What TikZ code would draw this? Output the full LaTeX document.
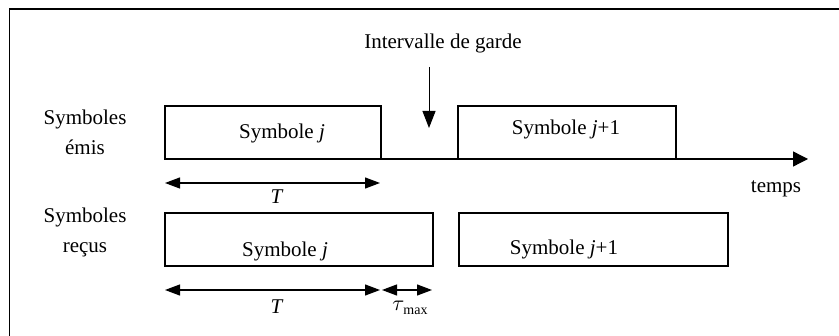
\documentclass[tikz,border=0pt]{standalone}
\usepackage{fontspec}
\setmainfont{Liberation Serif}
\usetikzlibrary{
  arrows.meta,
  positioning,
  calc
}
\tikzset{
  symbox/.style={
    draw,
    line width=0.65pt,
    inner sep=0pt,
    outer sep=0pt,
    minimum height=26.5pt,
    anchor=north west
  },
  txt/.style={
    inner sep=0pt,
    font=\fontsize{10.5}{15}\selectfont,
    align=center
  },
  dimline/.style={
    line width=0.6pt,
    {Triangle[length=7.5pt,width=5.5pt]}-{Triangle[length=7.5pt,width=5.5pt]}
  }
}

\begin{document}
\begin{tikzpicture}[
      x=0.5pt, y=-0.5pt,
      >=Stealth
      ]
      \useasboundingbox (0,0) rectangle (839,336);

      % cadre
      \draw[line width=0.7pt] (839,9) -| (9.5,336);

      % symboles emis
      \node[symbox, minimum width=108pt] (emisJ) at (165,106) {};
      \node[symbox, minimum width=109pt] (emisJJ) at (458,106) {};
      \node[txt] at (282,133) {Symbole \textit{j}};
      \node[txt] at (566,129) {Symbole \textit{j}+1};
      \node[txt] (emis) at (85,132) {Symboles\\émis};

      % axe du temps
      \coordinate (tip) at (808,159);
      \draw[line width=0.65pt, -{Triangle[length=7.5pt,width=7.5pt]}]
      (emisJ.south west) -- (tip);
      \node[txt] (temps) at (776,189) {temps};

      % intervalle de garde
      \node[txt] (garde) at (443,43) {Intervalle de garde};
      \coordinate (gA) at (429,67);
      \coordinate (gB) at (429,128);
      \draw[line width=0.5pt, -{Triangle[length=8.5pt,width=6.5pt]}] (gA) -- (gB);

      % symboles recus
      \node[symbox, minimum width=134pt] (recuJ) at (165,213) {};
      \node[symbox, minimum width=134.5pt] (recuJJ) at (459,213) {};
      \node[txt] at (285,251) {Symbole \textit{j}};
      \node[txt] at (564,249) {Symbole \textit{j}+1};
      \node[txt] (recu) at (85,232) {Symboles\\reçus};

      % durees
      \coordinate (tA) at (165,183);
      \coordinate (tB) at (380,183);
      \draw[dimline] (tA) -- (tB);
      \node[txt] at (277,197) {\textit{T}};

      \coordinate (rA) at (165,290);
      \coordinate (rB) at (380,290);
      \coordinate (rC) at (382,290);
      \coordinate (rD) at (432,290);
      \draw[dimline] (rA) -- (rB);
      \draw[dimline] (rC) -- (rD);
      \node[txt] at (277,307) {\textit{T}};
      \node[txt] at (410,308) {$\tau$\kern-0.5pt\raisebox{-0.45ex}{\fontsize{7}{8}\selectfont max}};
    \end{tikzpicture}
\end{document}
